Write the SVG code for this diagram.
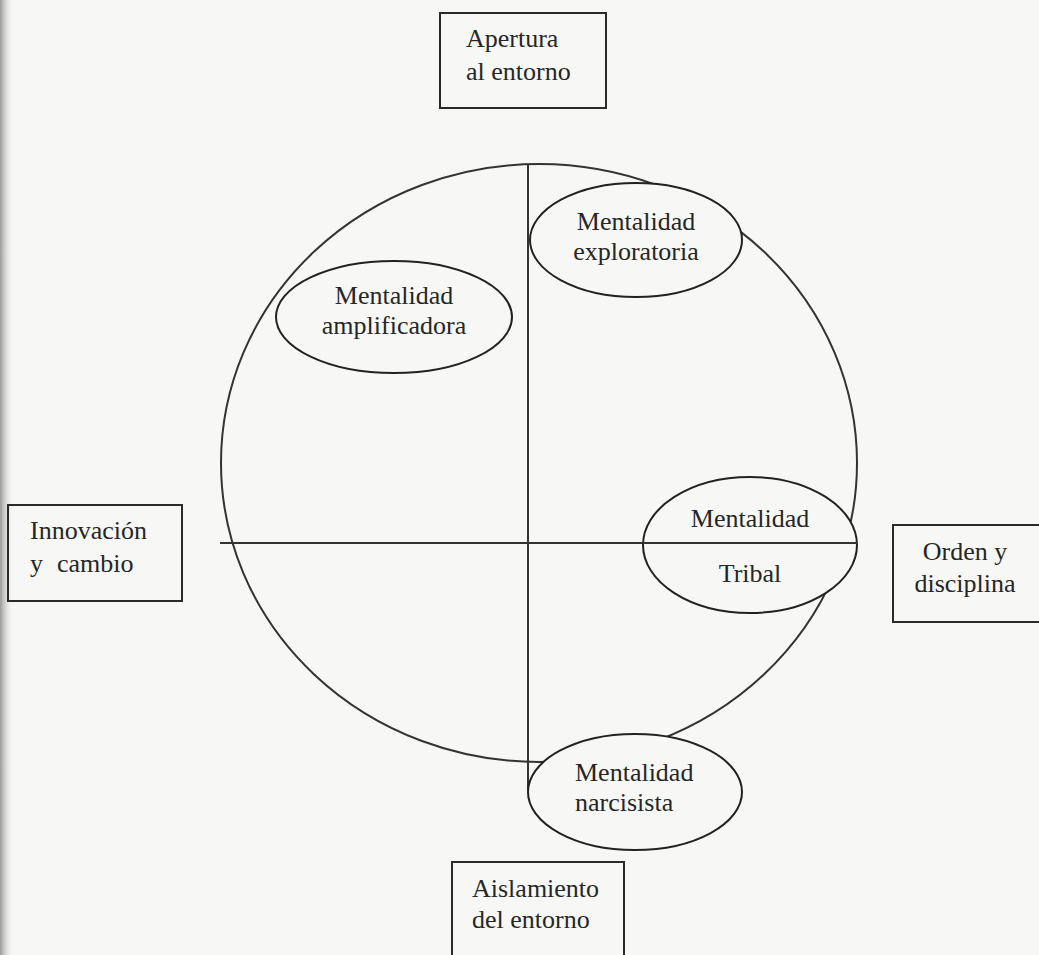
<svg xmlns="http://www.w3.org/2000/svg" width="1039" height="955" viewBox="0 0 1039 955">
<defs>
<linearGradient id="edge" x1="0" y1="0" x2="1" y2="0">
<stop offset="0" stop-color="#9a9a9a"/>
<stop offset="1" stop-color="#f6f7f5" stop-opacity="0"/>
</linearGradient>
<style>
.t{font-family:"Liberation Serif","Times New Roman",serif;font-size:26px;fill:#262626}
.c{text-anchor:middle}
.box{fill:none;stroke:#2a2a2a;stroke-width:2}
.ell{fill:#f7f8f6;stroke:#222;stroke-width:2}
.ln{stroke:#333;stroke-width:2;fill:none}
</style>
</defs>
<rect x="0" y="0" width="1039" height="955" fill="#f7f8f6"/>
<rect x="0" y="0" width="14" height="955" fill="url(#edge)"/>
<g id="connectors">
<ellipse cx="539" cy="463" rx="318" ry="299" class="ln"/>
<line x1="528" y1="164" x2="528" y2="790" class="ln"/>
<line x1="220" y1="543" x2="857" y2="543" class="ln"/>
</g>
<g id="apertura">
<rect x="440" y="13" width="166" height="95" class="box"/>
<text class="t" x="466" y="47">Apertura</text>
<text class="t" x="466" y="80">al entorno</text>
</g>
<g id="innovacion">
<rect x="8" y="505" width="174" height="96" class="box"/>
<text class="t" x="30" y="539">Innovación</text>
<text class="t" x="30" y="572">y</text>
<text class="t" x="57" y="572">cambio</text>
</g>
<g id="orden">
<rect x="893" y="525" width="160" height="97" class="box"/>
<text class="t c" x="965" y="560">Orden y</text>
<text class="t c" x="965" y="592">disciplina</text>
</g>
<g id="aislamiento">
<rect x="452" y="862" width="172" height="110" class="box"/>
<text class="t" x="472" y="897">Aislamiento</text>
<text class="t" x="472" y="928">del entorno</text>
</g>
<g id="exploratoria">
<ellipse cx="636" cy="240" rx="106" ry="57" class="ell"/>
<text class="t c" x="636" y="230">Mentalidad</text>
<text class="t c" x="636" y="260">exploratoria</text>
</g>
<g id="amplificadora">
<ellipse cx="394" cy="317" rx="118" ry="56" class="ell"/>
<text class="t c" x="394" y="304">Mentalidad</text>
<text class="t c" x="394" y="334">amplificadora</text>
</g>
<g id="tribal">
<ellipse cx="750" cy="545" rx="107" ry="68" class="ell"/>
<line x1="643" y1="543" x2="857" y2="543" class="ln"/>
<text class="t c" x="750" y="527">Mentalidad</text>
<text class="t c" x="750" y="582">Tribal</text>
</g>
<g id="narcisista">
<ellipse cx="635" cy="792" rx="107" ry="58" class="ell"/>
<text class="t" x="575" y="781">Mentalidad</text>
<text class="t" x="575" y="811">narcisista</text>
</g>
</svg>
